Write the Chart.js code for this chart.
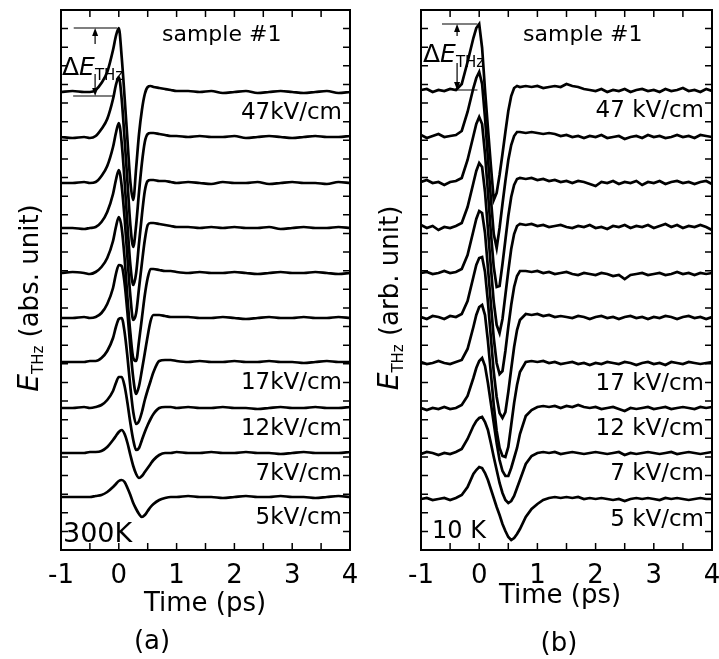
<!DOCTYPE html>
<html>
<head>
<meta charset="utf-8">
<script src="https://cdn.jsdelivr.net/npm/chart.js@4.4.1/dist/chart.umd.min.js"></script>
<style>
  html, body { margin: 0; padding: 0; background: #fff; }
  #wrap { position: relative; width: 719px; height: 659px; }
  canvas { position: absolute; top: 0; }
  #chartA { left: 0; }
  #chartB { left: 360px; }
</style>
</head>
<body>
<div id="wrap">
  <canvas id="chartA" width="360" height="659"></canvas>
  <canvas id="chartB" width="359" height="659"></canvas>
</div>
<script>
// ---- panel (a), 300 K : time axis (ps) and waveforms relative to each baseline
const timeA = [-1.0, -0.8, -0.6, -0.5, -0.4, -0.3, -0.2, -0.1, -0.05, 0, 0.05, 0.1, 0.15, 0.2, 0.25, 0.3, 0.35, 0.4, 0.45, 0.5, 0.55, 0.6, 0.7, 0.8, 0.9, 1.0, 1.2, 1.4, 1.6, 1.8, 2.0, 2.2, 2.4, 2.6, 2.8, 3.0, 3.2, 3.4, 3.6, 3.8, 4.0];

const a47 = [0, 1, 0, 0, 2, 9, 20, 42, 56, 64, 35, -5, -48, -90, -108, -76, -42, -18, -2, 5, 6, 5, 4, 3, 2, 1, 1, 0, 1, -1, 0, 1, -1, 0, 1, 0, -1, 0, 1, -1, 0];
const a42 = [0, -1, 0, -1, 1, 8, 18, 38, 52, 60, 38, -2, -45, -88, -110, -88, -55, -26, -5, 3, 4, 4, 3, 2, 1, 1, 0, 1, 0, 0, 1, -1, 0, 1, 0, -1, 0, 1, 0, 0, 1];
const a37 = [0, 0, 1, 0, 1, 7, 17, 36, 50, 60, 40, 2, -42, -82, -102, -90, -60, -32, -8, 2, 3, 3, 2, 2, 1, 0, 1, 0, -1, 1, 0, 0, 1, -1, 0, 1, 0, 0, -1, 1, 0];
const a32 = [0, 0, -1, 0, 1, 6, 16, 34, 48, 58, 42, 10, -30, -68, -92, -85, -60, -35, -12, 3, 5, 5, 4, 3, 2, 1, 1, 0, 1, 0, 1, 0, 0, 1, -1, 0, 1, 0, 0, 1, 0];
const a27 = [0, 1, 0, -1, 1, 6, 15, 32, 46, 56, 45, 15, -25, -60, -85, -88, -68, -45, -22, -5, 4, 4, 3, 2, 2, 1, 0, 1, 0, 0, 1, 0, -1, 0, 1, 0, 0, 1, 0, -1, 0];
const a22 = [0, 0, 1, 0, 1, 5, 14, 30, 44, 53, 52, 35, 5, -30, -60, -76, -68, -52, -35, -18, -3, 3, 3, 2, 1, 1, 1, 0, 0, 1, 0, -1, 0, 1, 0, 0, 1, 0, 0, 1, 0];
const a17 = [0, 0, 0, 1, 1, 4, 11, 24, 35, 43, 44, 30, 5, -25, -50, -62, -59, -50, -38, -28, -19, -10, 1, 2, 2, 1, 0, 1, 0, 0, 1, 0, 0, 1, 0, 0, -1, 0, 1, 0, 0];
const a12 = [0, 0, 1, 0, 1, 3, 8, 17, 25, 31, 31, 22, 5, -15, -32, -42, -40, -32, -24, -17, -11, -6, 0, 1, 1, 0, 1, 0, 0, 1, 0, 0, -1, 0, 1, 0, 0, 1, 0, 0, 1];
const a7 = [0, 0, 0, 1, 1, 2, 6, 13, 17, 21, 23, 19, 10, -2, -13, -21, -25, -23, -19, -15, -11, -7, -2, 0, 0, 1, 0, 0, 1, 0, 0, 1, 0, 0, -1, 0, 1, 0, 0, 0, 1];
const a5 = [0, 0, 0, 0, 1, 2, 5, 10, 13, 16, 17, 15, 9, 2, -6, -12, -17, -20, -18, -14, -10, -7, -3, -1, 0, 0, 1, 0, 0, -1, 0, 1, 0, 0, 1, 0, 0, -1, 0, 1, 0];

const seriesA = [a47, a42, a37, a32, a27, a22, a17, a12, a7, a5];
const offsetsA = [458, 413, 367, 322, 277, 232, 188, 142, 97, 53];
const fieldsA = ["47kV/cm", "", "", "", "", "", "17kV/cm", "12kV/cm", "7kV/cm", "5kV/cm"];

// ---- panel (b), 10 K
const timeB = [-1.0, -0.9, -0.8, -0.7, -0.6, -0.5, -0.4, -0.3, -0.2, -0.1, -0.05, 0, 0.05, 0.1, 0.15, 0.2, 0.25, 0.3, 0.35, 0.4, 0.45, 0.5, 0.55, 0.6, 0.65, 0.7, 0.8, 0.9, 1.0, 1.1, 1.2, 1.3, 1.4, 1.5, 1.6, 1.7, 1.8, 1.9, 2.0, 2.1, 2.2, 2.3, 2.4, 2.5, 2.6, 2.7, 2.8, 2.9, 3.0, 3.1, 3.2, 3.3, 3.4, 3.5, 3.6, 3.7, 3.8, 3.9, 4.0];

const b47 = [0, 1, -2, 0, -1, 1, 0, 6, 28, 52, 62, 66, 42, 0, -38, -75, -110, -103, -85, -64, -42, -21, -6, 2, 4, 3, 4, 3, 4, 2, 3, 4, 3, 6, 4, 3, 1, 0, -1, 1, -2, 0, -1, 1, -2, 0, 1, -1, 0, -2, 1, -1, 0, 2, -1, 0, -2, 1, -1];
const b42 = [1, -2, 0, 2, -1, 0, 1, 5, 24, 48, 58, 64, 52, 18, -22, -62, -98, -112, -92, -68, -45, -24, -9, 0, 4, 4, 3, 4, 3, 2, 3, 2, 0, 1, -1, 0, -2, 0, -1, 1, -2, -1, 0, -3, -1, 0, -2, 1, -1, 0, -2, -1, 1, -1, 0, -2, 1, 0, -1];
const b37 = [0, 2, -1, 0, -3, 0, 1, 4, 22, 46, 58, 65, 58, 28, -10, -50, -85, -105, -104, -82, -58, -34, -15, -3, 3, 4, 3, 4, 2, 3, 1, 2, 0, 1, -1, 1, 0, -2, -4, 0, -1, 1, -2, 0, -1, 1, -3, 0, -1, 1, -2, 0, 1, -1, 0, -2, 0, 1, -2];
const b32 = [2, -1, 1, -3, 0, -1, 1, 4, 20, 44, 56, 64, 60, 35, -2, -40, -75, -98, -106, -92, -68, -44, -22, -7, 1, 3, 2, 3, 1, 2, 0, 1, 2, 0, -1, 1, 0, 2, -1, 0, -2, 1, 0, 2, -1, 1, 0, 2, -1, 1, 3, 0, 2, -1, 1, 0, 2, 0, -3];
const b27 = [0, 1, -1, 0, 2, 0, 1, 4, 18, 42, 54, 62, 60, 40, 5, -30, -65, -90, -101, -98, -78, -54, -32, -14, -3, 2, 2, 1, 2, 0, 1, -1, 0, 1, -1, -2, 0, -1, -2, 0, -1, -3, -2, -6, -2, -1, 0, -2, -1, 0, -2, -1, 1, -1, 0, -2, 0, -1, 0];
const b22 = [0, -2, 1, 0, -2, 1, 0, 3, 16, 40, 52, 59, 60, 45, 15, -20, -55, -80, -96, -101, -95, -75, -52, -30, -13, -3, 3, 2, 3, 1, 2, 0, 1, 0, -1, 1, 0, -2, 0, 1, -1, 0, -2, 0, 1, -1, 0, -2, 0, -1, 1, 0, -2, 0, 1, -1, 0, -2, 0];
const b17 = [1, -1, 0, 2, 0, -1, 1, 3, 14, 36, 48, 56, 58, 48, 22, -10, -42, -68, -85, -93, -94, -84, -62, -40, -22, -9, 1, 2, 1, 2, 0, 1, -1, 0, 1, -1, 0, -2, 0, -1, 1, 0, -1, 1, 0, -2, 0, 1, -1, 0, -2, 1, 0, -1, 1, 0, -1, 0, 1];
const b12 = [0, -2, 0, -1, 1, -1, 0, 3, 12, 30, 40, 47, 50, 42, 25, 5, -15, -35, -52, -63, -68, -68, -60, -50, -40, -26, -8, -2, 1, 2, 1, 2, 0, 2, 1, 3, 1, 0, 1, -1, 0, 1, -1, -3, 0, -1, 0, 1, -1, 0, 1, -1, 0, 1, 0, -1, 1, 0, 1];
const b7 = [-1, 1, 0, -2, 0, -1, 1, 4, 14, 27, 32, 35, 36, 31, 23, 10, -4, -17, -30, -40, -47, -50, -48, -43, -35, -27, -11, -3, 0, 1, 0, 1, -1, 0, 1, 0, -1, 0, 1, 0, -1, 0, 1, -2, 0, -1, 0, 1, 0, -1, 0, 1, -1, 0, 1, 0, -1, 0, 1];
const b5 = [0, 1, -1, 0, 1, -1, 1, 4, 12, 25, 29, 32, 31, 26, 19, 10, 1, -8, -16, -25, -32, -38, -41, -39, -35, -30, -18, -10, -5, -1, 1, 2, 1, 2, 1, 2, 0, 1, 0, 1, 0, -1, 0, -2, 0, 1, 0, 1, 0, -1, 1, 0, 1, 0, -1, 0, 1, 0, 0];

const seriesB = [b47, b42, b37, b32, b27, b22, b17, b12, b7, b5];
const offsetsB = [460, 414, 368, 323, 277, 233, 187, 142, 97, 51];
const fieldsB = ["47 kV/cm", "", "", "", "", "", "17 kV/cm", "12 kV/cm", "7 kV/cm", "5 kV/cm"];

const xTicks = [-1, 0, 1, 2, 3, 4];
const yRange = [0, 540];
const yTickCount = 29;

Chart.defaults.font.family = "'DejaVu Sans'";
Chart.defaults.color = "#000";

function arrow(ctx, x, y0, y1) {
  // shaft from y0 to y1, head at y1
  const dir = y1 > y0 ? 1 : -1;
  ctx.beginPath();
  ctx.moveTo(x, y0);
  ctx.lineTo(x, y1 - dir * 6);
  ctx.stroke();
  ctx.beginPath();
  ctx.moveTo(x, y1);
  ctx.lineTo(x - 3, y1 - dir * 8);
  ctx.lineTo(x + 3, y1 - dir * 8);
  ctx.closePath();
  ctx.fill();
}

function makeDecor(p) {
  return {
    id: "decor",
    afterDraw(chart) {
      const { ctx, chartArea: a, scales: { x, y } } = chart;
      ctx.save();
      ctx.strokeStyle = "#000";
      ctx.fillStyle = "#000";

      // frame + inward ticks on all four sides
      ctx.lineWidth = 2;
      ctx.strokeRect(a.left, a.top, a.right - a.left, a.bottom - a.top);
      ctx.lineWidth = 1.5;
      ctx.beginPath();
      x.ticks.forEach((t) => {
        const px = x.getPixelForValue(t.value);
        ctx.moveTo(px, a.bottom); ctx.lineTo(px, a.bottom - 7);
        ctx.moveTo(px, a.top); ctx.lineTo(px, a.top + 7);
      });
      y.ticks.forEach((t) => {
        const py = y.getPixelForValue(t.value);
        ctx.moveTo(a.left, py); ctx.lineTo(a.left + 7, py);
        ctx.moveTo(a.right, py); ctx.lineTo(a.right - 7, py);
      });
      ctx.stroke();

      // field strength labels under their traces
      ctx.font = "23px 'DejaVu Sans'";
      ctx.textAlign = "right";
      ctx.textBaseline = "alphabetic";
      p.fields.forEach((f, i) => {
        if (!f) return;
        ctx.fillText(f, a.right - 8, y.getPixelForValue(p.offsets[i]) + 27);
      });

      // sample label and temperature
      ctx.font = "22px 'DejaVu Sans'";
      ctx.textAlign = "center";
      ctx.fillText("sample #1", x.getPixelForValue(1.78), a.top + 31);
      ctx.font = p.tempSize + "px 'DejaVu Sans'";
      ctx.textAlign = "left";
      ctx.fillText(p.temp, a.left + p.tempX, a.bottom + p.tempY);

      // delta E marker on the first trace
      const d = p.delta;
      const peak = y.getPixelForValue(p.offsets[0] + Math.max(...p.series[0]));
      const base = y.getPixelForValue(p.offsets[0]) + d.drop;
      ctx.lineWidth = 1.2;
      ctx.beginPath();
      ctx.moveTo(x.getPixelForValue(d.peakT[0]), peak);
      ctx.lineTo(x.getPixelForValue(d.peakT[1]), peak);
      ctx.moveTo(x.getPixelForValue(d.baseT[0]), base);
      ctx.lineTo(x.getPixelForValue(d.baseT[1]), base);
      ctx.stroke();
      const ax = x.getPixelForValue(d.arrowT);
      arrow(ctx, ax, peak + d.up, peak);
      arrow(ctx, ax, base - d.low, base);
      let tx = a.left + d.textX;
      const ty = a.top + d.textY;
      ctx.font = "25px 'DejaVu Sans'";
      ctx.fillText("\u0394", tx, ty);
      tx += ctx.measureText("\u0394").width;
      ctx.font = "italic 25px 'DejaVu Sans'";
      ctx.fillText("E", tx, ty);
      tx += ctx.measureText("E").width;
      ctx.font = "15px 'DejaVu Sans'";
      ctx.fillText("THz", tx, ty + 5);

      // y axis title, rotated
      ctx.save();
      ctx.translate(38, 298);
      ctx.rotate(-Math.PI / 2);
      ctx.font = "italic 28px 'DejaVu Sans'";
      const wE = ctx.measureText("E").width;
      ctx.font = "15px 'DejaVu Sans'";
      const wS = ctx.measureText("THz").width;
      ctx.font = "26px 'DejaVu Sans'";
      const wU = ctx.measureText(" " + p.yUnit).width;
      let cx = -(wE + wS + wU) / 2;
      ctx.textAlign = "left";
      ctx.font = "italic 28px 'DejaVu Sans'";
      ctx.fillText("E", cx, 0);
      cx += wE;
      ctx.font = "15px 'DejaVu Sans'";
      ctx.fillText("THz", cx, 5);
      cx += wS;
      ctx.font = "26px 'DejaVu Sans'";
      ctx.fillText(" " + p.yUnit, cx, 0);
      ctx.restore();

      // x axis title and panel letter
      ctx.textAlign = "center";
      ctx.font = "26px 'DejaVu Sans'";
      ctx.fillText("Time (ps)", p.titleX, p.titleY);
      ctx.fillText(p.letter, p.letterX, p.letterY);
      ctx.restore();
    },
  };
}

function buildPanel(p) {
  const datasets = p.series.map((vals, i) => ({
    data: vals.map((v, j) => ({ x: p.time[j], y: p.offsets[i] + v })),
    borderColor: "#000",
    borderWidth: 2.7,
    pointRadius: 0,
    fill: false,
    tension: p.tension,
    cubicInterpolationMode: p.tension ? "monotone" : "default",
  }));

  return new Chart(document.getElementById(p.id), {
    type: "line",
    data: { datasets: datasets },
    options: {
      responsive: false,
      animation: false,
      layout: { padding: { left: 0, right: p.padRight, top: 10, bottom: 0 } },
      plugins: { legend: { display: false }, tooltip: { enabled: false } },
      scales: {
        x: {
          type: "linear",
          min: xTicks[0],
          max: xTicks[xTicks.length - 1],
          grid: { display: false, drawTicks: false },
          border: { display: false },
          ticks: {
            stepSize: 0.5,
            autoSkip: false,
            maxRotation: 0,
            padding: 11,
            font: { size: 26 },
            callback: (v) => (xTicks.includes(v) ? String(v) : ""),
          },
          afterFit: (s) => {
            s.height = 109;
            s.paddingLeft = 0;
            s.paddingRight = 0;
          },
        },
        y: {
          min: yRange[0],
          max: yRange[1],
          grid: { display: false, drawTicks: false },
          border: { display: false },
          ticks: { display: false },
          afterBuildTicks: (s) => {
            const ticks = [];
            for (let i = 0; i <= yTickCount; i++) {
              ticks.push({ value: yRange[0] + (i * (yRange[1] - yRange[0])) / yTickCount });
            }
            s.ticks = ticks;
          },
          afterFit: (s) => { s.width = 61; },
        },
      },
    },
    plugins: [makeDecor(p)],
  });
}

buildPanel({
  id: "chartA", time: timeA, series: seriesA, offsets: offsetsA, fields: fieldsA, tension: 0.4,
  padRight: 10, yUnit: "(abs. unit)", temp: "300K", tempX: 2, tempY: -8, tempSize: 27,
  letter: "(a)", titleX: 205, titleY: 611, letterX: 152, letterY: 649,
  delta: { peakT: [-0.78, -0.03], baseT: [-0.79, -0.1], drop: 4, arrowT: -0.41, up: 16, low: 22, textX: 1, textY: 65 },
});

buildPanel({
  id: "chartB", time: timeB, series: seriesB, offsets: offsetsB, fields: fieldsB, tension: 0,
  padRight: 7, yUnit: "(arb. unit)", temp: "10 K", tempX: 11, tempY: -12, tempSize: 24,
  letter: "(b)", titleX: 200, titleY: 603, letterX: 199, letterY: 651,
  delta: { peakT: [-0.64, -0.03], baseT: [-0.40, -0.03], drop: 0, arrowT: -0.38, up: 12, low: 27, textX: 2, textY: 52 },
});
</script>
</body>
</html>
